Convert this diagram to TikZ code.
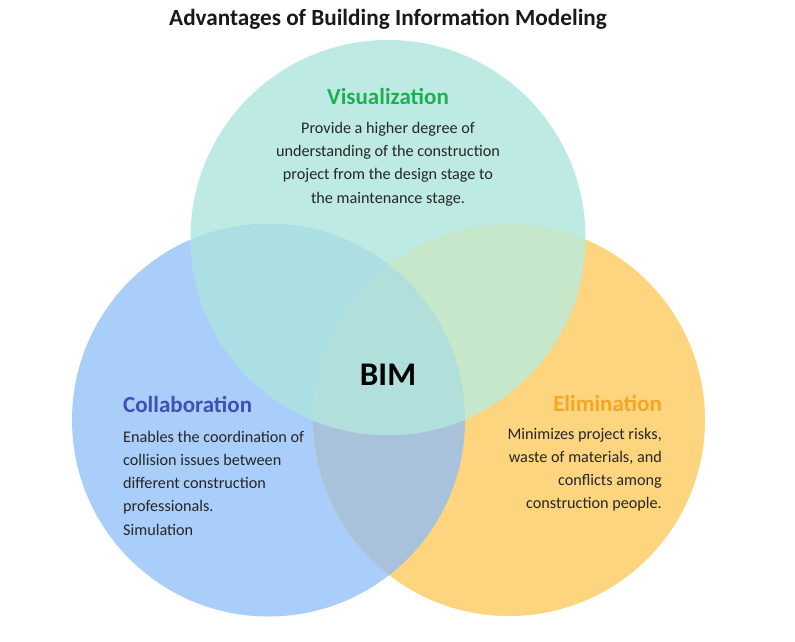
\documentclass[tikz,border=0pt]{standalone}
\usepackage{fontspec}
\setmainfont{Carlito}
\definecolor{cL}{HTML}{A9CEFA}
\definecolor{cR}{HTML}{FDD57F}
\definecolor{cT}{HTML}{BEEAE4}
\definecolor{cLR}{HTML}{A8C2DC}
\definecolor{cLT}{HTML}{ACDFE4}
\definecolor{cTR}{HTML}{C6E7C9}
\definecolor{cLTR}{HTML}{B0DFDC}
\definecolor{tgreen}{HTML}{1EAF4E}
\definecolor{tblue}{HTML}{3F51B5}
\definecolor{torange}{HTML}{F5A623}
\definecolor{body}{HTML}{262626}
\tikzset{
  head/.style={font=\fontsize{23}{27}\selectfont\bfseries, anchor=base, inner sep=0pt},
  txt/.style={font=\fontsize{16.2}{23.2}\selectfont, text=body, anchor=base, inner sep=0pt},
}
\begin{document}
\begin{tikzpicture}[x=1pt,y=-1pt]
\useasboundingbox[fill=white] (0,0) rectangle (795,641);
\def\Lc{(268.5,420) circle[radius=196.5]}
\def\Rc{(509,420) circle[radius=196]}
\def\Tc{(388,237.5) circle[radius=197.5]}
\fill[cL] \Lc;
\fill[cR] \Rc;
\fill[cT] \Tc;
\begin{scope}\clip \Lc; \fill[cLR] \Rc; \end{scope}
\begin{scope}\clip \Lc; \fill[cLT] \Tc; \end{scope}
\begin{scope}\clip \Tc; \fill[cTR] \Rc; \end{scope}
\begin{scope}\clip \Lc; \clip \Tc; \fill[cLTR] \Rc; \end{scope}

\node[head, font=\fontsize{23.2}{27}\selectfont\bfseries, text=black!90] (title) at (388,25) {Advantages of Building Information Modeling};

\node[head, text=tgreen] (vis) at (388,104) {Visualization};
\node[txt, align=center] (vistxt) at (388,203) {Provide a higher degree of\\understanding of the construction\\project from the design stage to\\the maintenance stage.};

\node[head, text=tblue, anchor=base west] (col) at (123,412) {Collaboration};
\node[txt, align=left, anchor=base west] (coltxt) at (123,535) {Enables the coordination of\\collision issues between\\different construction\\professionals.\\Simulation};

\node[head, text=torange, anchor=base east] (eli) at (662,411) {Elimination};
\node[txt, align=right, anchor=base east] (elitxt) at (662,508.6) {Minimizes project risks,\\waste of materials, and\\conflicts among\\construction people.};

\node[head, font=\fontsize{33}{36}\selectfont\bfseries, text=black] (bim) at (388,385) {BIM};
\end{tikzpicture}
\end{document}
